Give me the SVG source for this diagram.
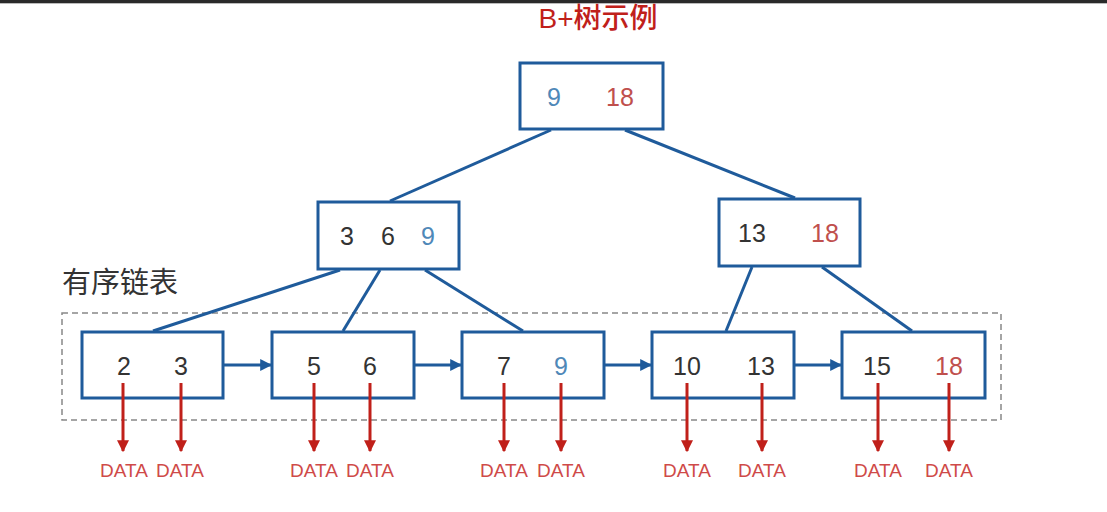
<svg xmlns="http://www.w3.org/2000/svg" width="1107" height="512" viewBox="0 0 1107 512">
<defs>
<style>
.box{fill:#fff;stroke:#1f5b9b;stroke-width:3}
.edge{stroke:#1f5b9b;stroke-width:3;fill:none}
.num{font-family:"Liberation Sans",Arial,sans-serif;font-size:25px;text-anchor:middle;dominant-baseline:central}
.k{fill:#333}
.b{fill:#4f88b8}
.r{fill:#c0504d}
.red{stroke:#c0201a;stroke-width:3;fill:none}
.data{font-family:"Liberation Sans",Arial,sans-serif;font-size:19px;fill:#cf4a48;text-anchor:middle}
</style>
<marker id="ab" viewBox="0 0 10 10" refX="9" refY="5" markerWidth="4" markerHeight="4" orient="auto" markerUnits="strokeWidth"><path d="M0,0 L10,5 L0,10 z" fill="#1f5b9b"/></marker>
<marker id="ar" viewBox="0 0 10 10" refX="9" refY="5" markerWidth="4" markerHeight="4" orient="auto" markerUnits="strokeWidth"><path d="M0,0 L10,5 L0,10 z" fill="#c0201a"/></marker>
</defs>
<rect x="0" y="0" width="1107" height="512" fill="#fff"/>
<rect x="0" y="0" width="1107" height="3" fill="#2a2a2a"/>
<rect x="0" y="3" width="1107" height="1" fill="#bbb"/>
<text x="598" y="28" font-family="'Liberation Sans','Noto Sans CJK SC',sans-serif" font-size="28" font-weight="500" fill="#c0201a" text-anchor="middle">B+树示例</text>
<text x="62" y="293" font-family="'Liberation Sans','Noto Sans CJK SC',sans-serif" font-size="29" fill="#333">有序链表</text>
<rect x="62" y="313" width="939" height="107" fill="none" stroke="#888" stroke-width="1.5" stroke-dasharray="6,4"/>
<g id="root"><rect class="box" x="520" y="63" width="143" height="66"/>
<text class="num b" x="554" y="97">9</text><text class="num r" x="620" y="97">18</text></g>
<g id="n-left"><rect class="box" x="318" y="202" width="141" height="67"/>
<text class="num k" x="347" y="236">3</text><text class="num k" x="388" y="236">6</text><text class="num b" x="428" y="236">9</text></g>
<g id="n-right"><rect class="box" x="719" y="199" width="141" height="67"/>
<text class="num k" x="752" y="233">13</text><text class="num r" x="825" y="233">18</text></g>
<g id="leaf1"><rect class="box" x="82" y="332" width="141" height="66"/>
<text class="num k" x="124" y="366">2</text><text class="num k" x="181" y="366">3</text></g>
<g id="leaf2"><rect class="box" x="272" y="332" width="142" height="66"/>
<text class="num k" x="314" y="366">5</text><text class="num k" x="370" y="366">6</text></g>
<g id="leaf3"><rect class="box" x="462" y="332" width="142" height="66"/>
<text class="num k" x="504" y="366">7</text><text class="num b" x="561" y="366">9</text></g>
<g id="leaf4"><rect class="box" x="652" y="332" width="142" height="66"/>
<text class="num k" x="687" y="366">10</text><text class="num k" x="761" y="366">13</text></g>
<g id="leaf5"><rect class="box" x="842" y="332" width="143" height="66"/>
<text class="num k" x="877" y="366">15</text><text class="num r" x="949" y="366">18</text></g>
<g id="connectors">
<line class="edge" x1="551" y1="130" x2="390" y2="201"/>
<line class="edge" x1="625" y1="130" x2="795" y2="198"/>
<line class="edge" x1="340" y1="270" x2="153" y2="331"/>
<line class="edge" x1="380" y1="270" x2="343" y2="331"/>
<line class="edge" x1="425" y1="270" x2="523" y2="331"/>
<line class="edge" x1="752" y1="267" x2="726" y2="331"/>
<line class="edge" x1="822" y1="267" x2="912" y2="331"/>
<line class="edge" x1="224" y1="365" x2="271" y2="365" marker-end="url(#ab)"/>
<line class="edge" x1="415" y1="365" x2="461" y2="365" marker-end="url(#ab)"/>
<line class="edge" x1="605" y1="365" x2="651" y2="365" marker-end="url(#ab)"/>
<line class="edge" x1="795" y1="365" x2="841" y2="365" marker-end="url(#ab)"/>
<line class="red" x1="123" y1="383" x2="123" y2="451" marker-end="url(#ar)"/>
<line class="red" x1="181" y1="383" x2="181" y2="451" marker-end="url(#ar)"/>
<line class="red" x1="314" y1="383" x2="314" y2="451" marker-end="url(#ar)"/>
<line class="red" x1="370" y1="383" x2="370" y2="451" marker-end="url(#ar)"/>
<line class="red" x1="504" y1="383" x2="504" y2="451" marker-end="url(#ar)"/>
<line class="red" x1="561" y1="383" x2="561" y2="451" marker-end="url(#ar)"/>
<line class="red" x1="687" y1="383" x2="687" y2="451" marker-end="url(#ar)"/>
<line class="red" x1="762" y1="383" x2="762" y2="451" marker-end="url(#ar)"/>
<line class="red" x1="878" y1="383" x2="878" y2="451" marker-end="url(#ar)"/>
<line class="red" x1="949" y1="383" x2="949" y2="451" marker-end="url(#ar)"/>
</g>
<g id="data">
<text class="data" x="124" y="477">DATA</text><text class="data" x="180" y="477">DATA</text>
<text class="data" x="314" y="477">DATA</text><text class="data" x="370" y="477">DATA</text>
<text class="data" x="504" y="477">DATA</text><text class="data" x="561" y="477">DATA</text>
<text class="data" x="687" y="477">DATA</text><text class="data" x="762" y="477">DATA</text>
<text class="data" x="878" y="477">DATA</text><text class="data" x="949" y="477">DATA</text>
</g>
</svg>
